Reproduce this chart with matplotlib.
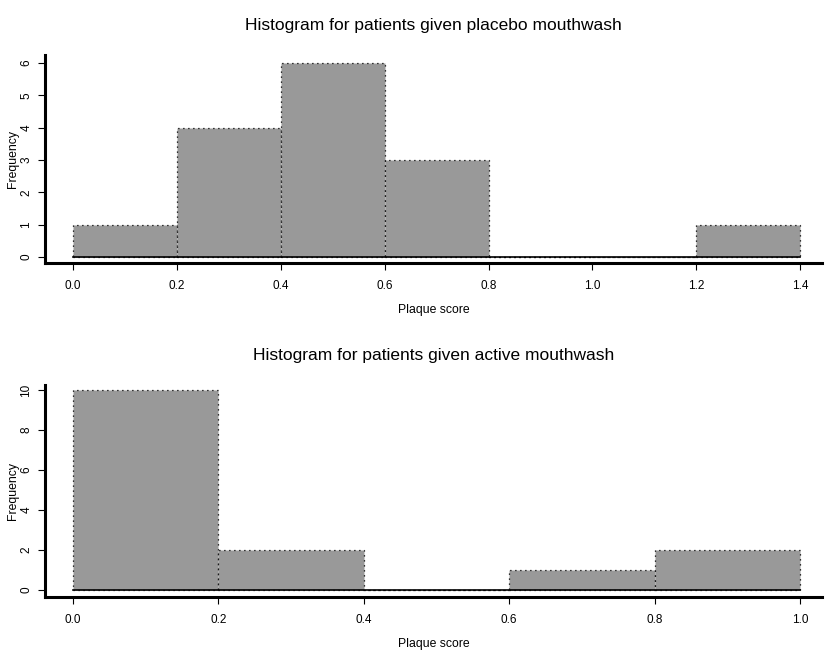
import matplotlib.pyplot as plt
import numpy as np

plt.rcParams['font.family'] = ['Liberation Sans', 'DejaVu Sans']

# Bin edges and counts for each group
placebo_edges = [0.0, 0.2, 0.4, 0.6, 0.8, 1.0, 1.2, 1.4]
placebo_counts = [1, 4, 6, 3, 0, 0, 1]
placebo_xticks = [0.0, 0.2, 0.4, 0.6, 0.8, 1.0, 1.2, 1.4]
placebo_yticks = [0, 1, 2, 3, 4, 5, 6]

active_edges = [0.0, 0.2, 0.4, 0.6, 0.8, 1.0]
active_counts = [10, 2, 0, 1, 2]
active_xticks = [0.0, 0.2, 0.4, 0.6, 0.8, 1.0]
active_yticks = [0, 2, 4, 6, 8, 10]


def draw_hist(ax, edges, counts, xticks, yticks, xlim, ylim, title):
    edges = np.asarray(edges)
    widths = np.diff(edges)
    ax.bar(edges[:-1], counts, width=widths, align='edge', color='#999999',
           edgecolor='black', linestyle=(0, (1, 3)), linewidth=0.9)
    # baseline across the full range of bins
    ax.plot([edges[0], edges[-1]], [0, 0], color='black', linewidth=1.2)

    ax.set_xlim(*xlim)
    ax.set_ylim(*ylim)
    ax.set_xticks(xticks)
    ax.set_xticklabels([f"{t:.1f}" for t in xticks])
    ax.set_yticks(yticks)
    ax.set_yticklabels([str(t) for t in yticks], rotation=90, va='center')
    ax.tick_params(direction='out', length=5, width=0.8, labelsize=8.5)
    ax.tick_params(axis='x', pad=7)
    ax.tick_params(axis='y', pad=4)

    for side in ('top', 'right'):
        ax.spines[side].set_visible(False)
    for side in ('left', 'bottom'):
        ax.spines[side].set_linewidth(2.2)

    ax.set_xlabel('Plaque score', fontsize=8.8, labelpad=9)
    ax.set_ylabel('Frequency', fontsize=8.8, labelpad=1)
    ax.set_title(title, fontsize=12.5, pad=18)


fig = plt.figure(figsize=(8.25, 6.5), dpi=100)

ax1 = fig.add_axes([0.0545, 0.5954, 0.9418, 0.32])
draw_hist(ax1, placebo_edges, placebo_counts, placebo_xticks, placebo_yticks,
          (-0.054, 1.442), (-0.186, 6.25),
          'Histogram for patients given placebo mouthwash')

ax2 = fig.add_axes([0.0545, 0.0815, 0.9418, 0.3262])
draw_hist(ax2, active_edges, active_counts, active_xticks, active_yticks,
          (-0.0385, 1.0303), (-0.36, 10.26),
          'Histogram for patients given active mouthwash')

fig.savefig('out.png', dpi=100)
